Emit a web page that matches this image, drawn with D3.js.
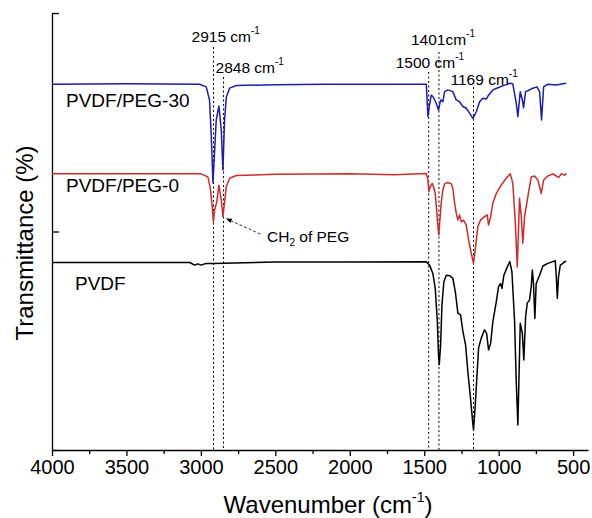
<!DOCTYPE html>
<html>
<head>
<meta charset="utf-8">
<script src="https://cdn.jsdelivr.net/npm/d3@7"></script>
<style>
  body { margin: 0; background: #fff; }
  text { font-family: "Liberation Sans", Arial, sans-serif; }
</style>
</head>
<body>
<script>
// spectra, [wavenumber, transmittance (offset, a.u.)]
const peg30 = [[4000,83.7],[3500,83.8],[3009,83.7],[2964,83.1],[2942,80.1],[2930,71.7],[2919,61.1],[2897,75.5],[2879,78.7],[2863,73.2],[2852,64.1],[2841,75.5],[2829,80.8],[2807,82.8],[2762,83.4],[2500,83.6],[2160,83.7],[2000,83.7],[1486,83.7],[1475,76.3],[1464,79.0],[1453,81.2],[1442,80.9],[1430,80.1],[1419,79.3],[1404,77.8],[1390,80.1],[1375,79.7],[1363,82.0],[1341,82.4],[1308,82.0],[1285,80.1],[1263,79.7],[1240,78.6],[1218,78.2],[1195,77.1],[1173,75.9],[1150,77.4],[1128,79.7],[1106,80.5],[1083,80.3],[1068,81.2],[1039,82.4],[1005,82.9],[960,83.5],[927,83.9],[905,83.8],[882,79.4],[871,76.3],[855,82.0],[841,80.1],[833,78.3],[819,82.0],[804,82.2],[770,82.8],[743,83.1],[725,82.0],[712,75.5],[698,83.1],[670,83.7],[613,83.5],[569,83.8],[546,83.9]];

const peg0 = [[4000,63.2],[3500,63.2],[3000,63.2],[2953,62.5],[2937,60.0],[2923,55.4],[2916,52.2],[2908,54.9],[2893,56.8],[2879,60.6],[2863,57.2],[2852,53.4],[2829,60.3],[2807,62.2],[2762,62.8],[2500,63.1],[2000,63.2],[1700,63.0],[1486,63.3],[1475,61.8],[1469,59.1],[1459,60.3],[1446,61.0],[1435,59.9],[1426,58.7],[1415,54.2],[1408,51.1],[1402,49.2],[1395,52.6],[1386,56.5],[1375,59.5],[1363,60.9],[1341,61.2],[1318,60.9],[1308,59.9],[1296,56.5],[1285,54.2],[1274,52.6],[1263,53.8],[1251,52.2],[1236,52.6],[1218,51.5],[1202,48.1],[1184,45.0],[1169,42.7],[1155,46.5],[1140,51.1],[1122,52.6],[1095,53.4],[1077,53.8],[1068,51.5],[1054,53.4],[1039,56.5],[1016,58.7],[983,60.6],[949,62.2],[922,63.2],[905,61.0],[889,52.6],[875,41.9],[860,57.6],[848,53.4],[838,47.3],[826,53.4],[804,58.0],[781,62.5],[759,62.7],[737,61.8],[714,58.7],[698,61.8],[670,62.7],[636,63.2],[613,62.7],[596,62.4],[580,63.2],[557,62.9],[546,63.3]];

const pvdf = [[4000,42.9],[3500,42.9],[3075,42.9],[3042,42.3],[3020,42.6],[2997,42.3],[2975,42.6],[2953,42.7],[2919,42.7],[2500,43.0],[2000,43.0],[1486,43.1],[1464,42.3],[1442,40.4],[1426,37.0],[1412,29.4],[1404,21.7],[1399,19.5],[1390,24.0],[1381,33.2],[1368,38.5],[1352,40.0],[1330,39.9],[1308,39.3],[1291,36.2],[1274,31.3],[1256,30.9],[1240,27.1],[1222,24.0],[1207,17.9],[1189,11.8],[1175,6.5],[1169,4.6],[1160,8.8],[1148,15.6],[1135,23.3],[1117,25.6],[1095,27.5],[1081,26.7],[1068,22.9],[1054,24.4],[1039,29.4],[1016,33.9],[1001,37.4],[987,38.1],[978,37.0],[965,40.0],[942,41.9],[925,43.1],[911,40.8],[893,29.4],[882,15.6],[871,5.7],[855,29.0],[841,26.7],[831,20.6],[819,30.5],[808,33.6],[793,34.3],[781,37.4],[774,41.2],[766,38.1],[757,30.1],[748,38.1],[725,40.0],[703,42.1],[670,42.7],[636,43.1],[620,43.3],[613,39.7],[606,34.7],[598,39.7],[586,42.3],[569,42.7],[557,43.1],[546,43.2]];

const seriesNames = ["PVDF/PEG-30", "PVDF/PEG-0", "PVDF"];
const peakWn = [2915, 2848, 1470, 1401, 1169];
const peakText = ["2915 cm", "2848 cm", "1500 cm", "1401cm", "1169 cm"];
const majorTicks = [4000, 3500, 3000, 2500, 2000, 1500, 1000, 500];
const minorTicks = [3750, 3250, 2750, 2250, 1750, 1250, 750];
const yTicks = [0, 50, 100];

let width = 592, height = 518;

let svg = d3.select("body").append("svg")
    .attr("width", width)
    .attr("height", height);

let x = d3.scaleLinear().domain([4000, 400]).range([52, 588]);
let y = d3.scaleLinear().domain([0, 100]).range([450, 13]);

// x axis: minor then major ticks
svg.append("g")
    .attr("transform", "translate(0,450)")
    .call(d3.axisBottom(x).tickValues(minorTicks).tickSize(4).tickFormat(""))
    .call(g => g.select(".domain").remove())
    .selectAll("line").attr("stroke-width", 1.3);

let xAxis = svg.append("g")
    .attr("transform", "translate(0,450)")
    .call(d3.axisBottom(x).tickValues(majorTicks).tickSize(6).tickSizeOuter(0)
        .tickPadding(4).tickFormat(d3.format("d")));
xAxis.selectAll("line, path").attr("stroke-width", 1.3);
xAxis.selectAll("text")
    .attr("font-size", 20)
    .attr("font-family", "'Liberation Sans', Arial, sans-serif");

// y axis, no labels
let yAxis = svg.append("g")
    .attr("transform", "translate(52,0)")
    .call(d3.axisLeft(y).tickValues(yTicks).tickSizeInner(-7).tickSizeOuter(0).tickFormat(""));
yAxis.selectAll("line, path").attr("stroke-width", 1.3);

// dotted peak lines and their labels
let peakLayout = [
    {top: 47, dx: -22, ty: 42},
    {top: 77, dx: -8, ty: 73},
    {top: 72, dx: -33, ty: 68},
    {top: 52, dx: -28, ty: 45},
    {top: 87, dx: -23, ty: 85}
];

peakWn.forEach(function (wn, i) {
    let p = peakLayout[i];
    svg.append("line")
        .attr("x1", x(wn)).attr("x2", x(wn))
        .attr("y1", p.top).attr("y2", y(0))
        .attr("stroke", "#000")
        .attr("stroke-width", 1)
        .attr("stroke-dasharray", "2,2.5");
    let t = svg.append("text")
        .attr("x", x(wn) + p.dx)
        .attr("y", p.ty)
        .attr("font-size", 15.5);
    t.append("tspan").text(peakText[i]);
    t.append("tspan").attr("font-size", 10).attr("dy", -8).text("-1");
});

// spectra
let line = d3.line()
    .x(d => x(d[0]))
    .y(d => y(d[1]));

let colors = ["#1c1cb0", "#d02a2a", "#000000"];
[peg30, peg0, pvdf].forEach(function (s, i) {
    svg.append("path")
        .datum(s)
        .attr("fill", "none")
        .attr("stroke", colors[i])
        .attr("stroke-width", 1.5)
        .attr("stroke-linejoin", "round")
        .attr("d", line);
});

// series labels
let labelPos = [[66, 107], [66, 192], [75, 290]];
seriesNames.forEach(function (n, i) {
    svg.append("text")
        .attr("x", labelPos[i][0])
        .attr("y", labelPos[i][1])
        .attr("font-size", 19)
        .text(n);
});

// CH2 of PEG arrow
svg.append("defs").append("marker")
    .attr("id", "head")
    .attr("viewBox", "0 0 10 10")
    .attr("refX", 9).attr("refY", 5)
    .attr("markerWidth", 7).attr("markerHeight", 7)
    .attr("orient", "auto")
    .append("path")
    .attr("d", "M0,1L10,5L0,9Z")
    .attr("fill", "#000");

svg.append("line")
    .attr("x1", x(2600)).attr("y1", y(49.4))
    .attr("x2", x(2827)).attr("y2", y(52.9))
    .attr("stroke", "#000")
    .attr("stroke-width", 0.8)
    .attr("stroke-dasharray", "3,2")
    .attr("marker-end", "url(#head)");

let ch = svg.append("text")
    .attr("x", 267)
    .attr("y", 242)
    .attr("font-size", 15.5);
ch.append("tspan").text("CH");
ch.append("tspan").attr("font-size", 10).attr("dy", 4).text("2");
ch.append("tspan").attr("dy", -4).text(" of PEG");

// axis titles
let xt = svg.append("text")
    .attr("x", 328)
    .attr("y", 513)
    .attr("text-anchor", "middle")
    .attr("font-size", 24);
xt.append("tspan").text("Wavenumber (cm");
xt.append("tspan").attr("font-size", 14).attr("dy", -11).text("-1");
xt.append("tspan").attr("dy", 11).text(")");

svg.append("text")
    .attr("transform", "translate(33,243) rotate(-90)")
    .attr("text-anchor", "middle")
    .attr("font-size", 24)
    .text("Transmittance (%)");
</script>
</body>
</html>
